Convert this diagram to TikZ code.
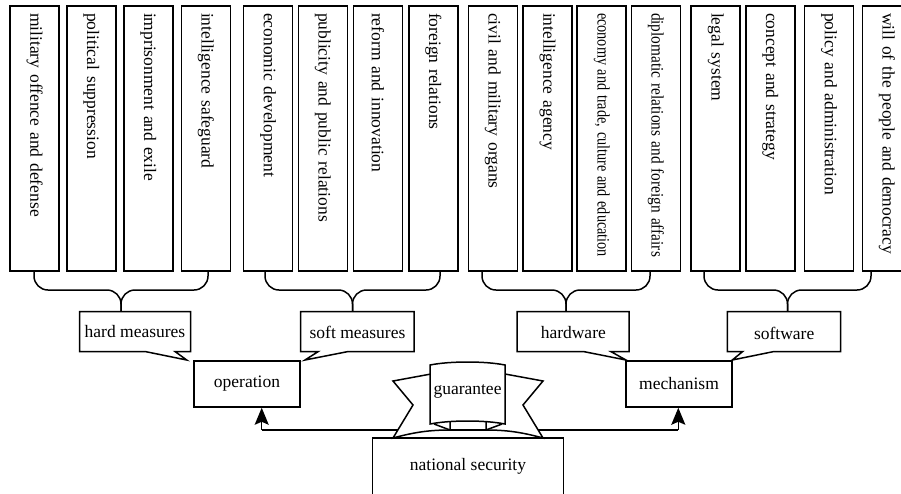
\documentclass[tikz,border=0pt]{standalone}
\usepackage{fontspec}
\setmainfont{Liberation Serif}
\usepackage{graphicx}
\usetikzlibrary{arrows.meta}
\begin{document}
\begin{tikzpicture}[x=1pt,y=-1pt, line width=1.5pt,
  every node/.style={font=\fontsize{17.5}{21}\selectfont},
  vbox/.style={draw, rotate=-90, minimum width=265pt, minimum height=49pt, text width=251pt, align=left, inner xsep=7pt, inner ysep=0pt},
  bracepath/.style={rounded corners=14pt},
  plainbox/.style={draw, minimum width=106pt, minimum height=46pt, inner sep=0pt},
  callout/.style={fill=white, line join=miter},
  lbl/.style={inner sep=0pt},
  uparrow/.style={arrows={-Stealth[length=17pt,width=14pt,inset=3pt]}}
]
\useasboundingbox (0,0) rectangle (901,493);

% top boxes
\node[vbox] (b1)  at (34.7,138.5)  {military offence and defense};
\node[vbox] (b2)  at (91.3,138.5)  {political suppression};
\node[vbox] (b3)  at (148.3,138.5) {imprisonment and exile};
\node[vbox] (b4)  at (206,138.5)   {intelligence safeguard};
\node[vbox] (b5)  at (268,138.5)   {economic development};
\node[vbox] (b6)  at (322.8,138.5) {publicity and public relations};
\node[vbox] (b7)  at (378,138.5)   {reform and innovation};
\node[vbox] (b8)  at (433.3,138.5) {foreign relations};
\node[vbox] (b9)  at (492.8,138.5) {civil and military organs};
\node[vbox] (b10) at (547.5,138.5) {intelligence agency};
\node[vbox] (b11) at (601.7,138.5) {\resizebox{244pt}{\height}{economy and trade, culture and education}};
\node[vbox] (b12) at (656,138.5)   {\resizebox{244pt}{\height}{diplomatic relations and foreign affairs}};
\node[vbox] (b13) at (715.7,138.5) {legal system};
\node[vbox] (b14) at (770.3,138.5) {concept and strategy};
\node[vbox] (b15) at (829,138.5)   {policy and administration};
\node[vbox] (b16) at (887,138.5)   {will of the people and democracy};

% brace end points and tips
\coordinate (h1) at (34,271);  \coordinate (h2) at (208,271); \coordinate (ht) at (121,311.5);
\coordinate (s1) at (265,271); \coordinate (s2) at (440,271); \coordinate (st) at (352.5,311.5);
\coordinate (w1) at (482,271); \coordinate (w2) at (650,271); \coordinate (wt) at (566,311.5);
\coordinate (f1) at (704,271); \coordinate (f2) at (871,271); \coordinate (ft) at (787.5,311.5);

\foreach \a/\b/\t in {h1/h2/ht, s1/s2/st, w1/w2/wt, f1/f2/ft}{
  \draw[bracepath] (\a) -- (\a |- 0,290) -- (\t |- 0,290) -- (\t);
  \draw[bracepath] (\b) -- (\b |- 0,290) -- (\t |- 0,290) -- (\t);
}

% callouts
\draw[callout] (79.5,311.5) -- (190.5,311.5) -- (190.5,351.5) -- (175,351.5) -- (186.7,360) -- (145,351.5) -- (79.5,351.5) -- cycle;
\node[lbl] (hard) at (135,332) {hard measures};
\draw[callout] (300.7,311.5) -- (414,311.5) -- (414,351.5) -- (348.3,351.5) -- (305,360) -- (318.3,351.5) -- (300.7,351.5) -- cycle;
\node[lbl] (soft) at (357.5,332) {soft measures};
\draw[callout] (517,311.5) -- (629,311.5) -- (629,351.5) -- (610.7,351.5) -- (626,360) -- (583.3,351.5) -- (517,351.5) -- cycle;
\node[lbl] (hw) at (573.3,333) {hardware};
\draw[callout] (727.3,311.5) -- (840.7,311.5) -- (840.7,351.5) -- (774,351.5) -- (732.3,360) -- (742.7,351.5) -- (727.3,351.5) -- cycle;
\node[lbl] (sw) at (784.2,333) {software};

% operation / mechanism
\node[plainbox] (op) at (247,384) {operation};
\node[plainbox] (mech) at (679,384) {mechanism};

% arrows
\coordinate (jl) at (261.7,430);
\coordinate (jr) at (678.3,430);
\draw (jl) -- (jr);
\draw[uparrow] (jl) -- (jl |- op.south);
\draw[uparrow] (jr) -- (jr |- mech.south);

% national security
\node[draw, minimum width=191pt, minimum height=57pt, inner sep=0pt] (ns) at (468,466.7) {national security};

% guarantee ribbon
\fill[white] (431,374) -- (393,381) -- (413,405) -- (393,438) .. controls (415,432) and (430,430) .. (450,430) -- (450,423) -- (431,423) -- cycle;
\draw (431,374) -- (393,381) -- (413,405) -- (393,438) .. controls (415,432) and (430,430) .. (450,430) -- (450,422);
\draw (434,424) -- (450,430);
\fill[white] (505,374) -- (543,381) -- (523,405) -- (543,438) .. controls (521,432) and (506,430) .. (486,430) -- (486,423) -- (505,423) -- cycle;
\draw (505,374) -- (543,381) -- (523,405) -- (543,438) .. controls (521,432) and (506,430) .. (486,430) -- (486,422);
\draw (502,424) -- (486,430);
\draw[fill=white] (430,365) .. controls (450,361) and (485,361) .. (505,365) -- (505,424) .. controls (485,420) and (450,420) .. (430,424) -- cycle;
\node[lbl] (guar) at (467.5,391) {guarantee};

\end{tikzpicture}
\end{document}
